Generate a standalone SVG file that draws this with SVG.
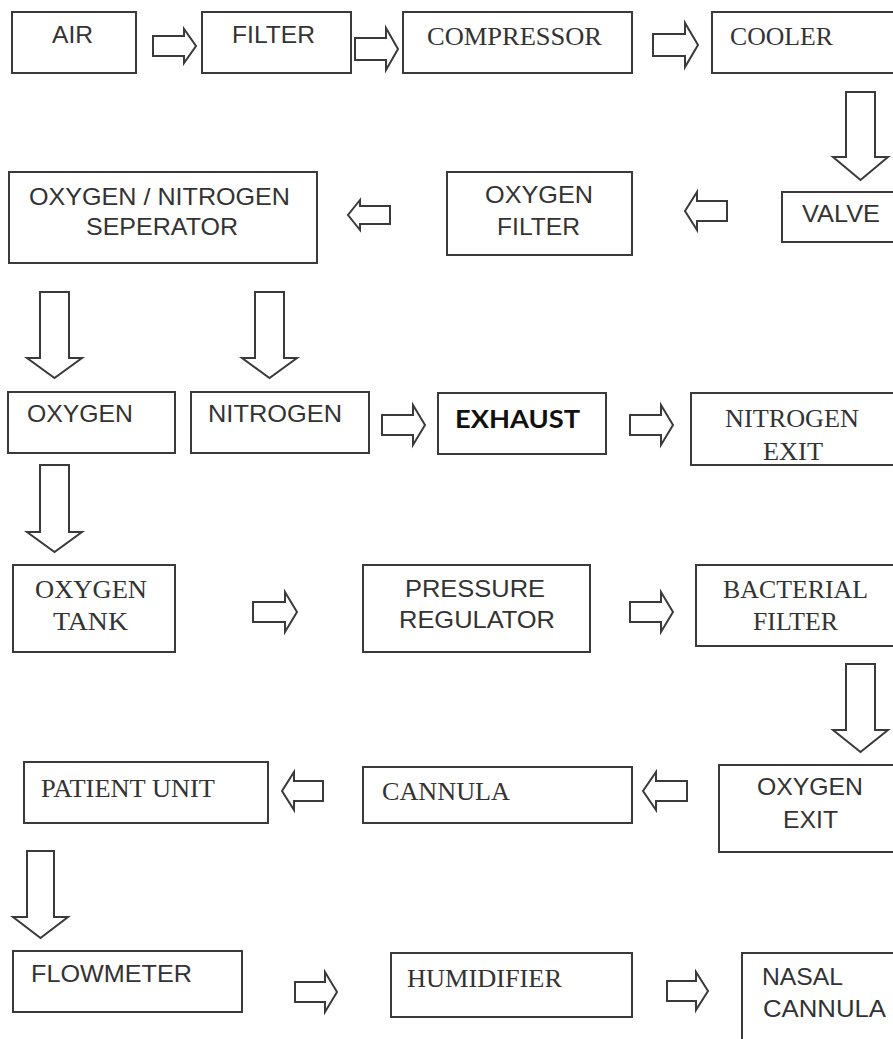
<svg xmlns="http://www.w3.org/2000/svg" width="893" height="1039" viewBox="0 0 893 1039">
<style>
.box{fill:#fff;stroke:#3a3a3a;stroke-width:2}
.arr{fill:#fff;stroke:#3a3a3a;stroke-width:2;stroke-linejoin:miter}
.s{font-family:"Liberation Sans",Arial,sans-serif;font-size:24px;fill:#333}
.t{font-family:"Liberation Serif","Times New Roman",serif;font-size:26px;fill:#333}
.b{font-family:Lato,"Liberation Sans",sans-serif;font-weight:bold;font-size:25px;fill:#111}
</style>
<rect width="893" height="1039" fill="#fff"/>
<g id="connectors">
<path class="arr" d="M153,36 L184,36 L184,29 L196,46 L184,63 L184,56 L153,56 Z"/>
<path class="arr" d="M355,38 L386,38 L386,28 L398,49 L386,70 L386,60 L355,60 Z"/>
<path class="arr" d="M653,34 L685,34 L685,23 L698,45 L685,67 L685,56 L653,56 Z"/>
<path class="arr" d="M382,415 L413,415 L413,405 L425,425 L413,445 L413,435 L382,435 Z"/>
<path class="arr" d="M630,415 L661,415 L661,405 L673,425 L661,445 L661,435 L630,435 Z"/>
<path class="arr" d="M253,602 L285,602 L285,592 L297,612 L285,632 L285,622 L253,622 Z"/>
<path class="arr" d="M630,602 L661,602 L661,592 L673,612 L661,632 L661,622 L630,622 Z"/>
<path class="arr" d="M295,982 L325,982 L325,972 L337,992 L325,1012 L325,1002 L295,1002 Z"/>
<path class="arr" d="M667,981 L696,981 L696,972 L708,991 L696,1010 L696,1001 L667,1001 Z"/>
<path class="arr" d="M390,206 L360,206 L360,200 L348,215 L360,230 L360,224 L390,224 Z"/>
<path class="arr" d="M727,201 L697,201 L697,192 L685,211 L697,230 L697,221 L727,221 Z"/>
<path class="arr" d="M323,781 L294,781 L294,772 L282,791 L294,810 L294,801 L323,801 Z"/>
<path class="arr" d="M687,781 L656,781 L656,772 L643,791 L656,810 L656,801 L687,801 Z"/>
<path class="arr" d="M846,92 L875,92 L875,157 L888,157 L860.5,180 L833,157 L846,157 Z"/>
<path class="arr" d="M40,292 L69,292 L69,358 L82,358 L54.5,378 L27,358 L40,358 Z"/>
<path class="arr" d="M255,292 L284,292 L284,358 L297,358 L269.5,378 L242,358 L255,358 Z"/>
<path class="arr" d="M40,465 L69,465 L69,532 L82,532 L54.5,552 L27,532 L40,532 Z"/>
<path class="arr" d="M846,664 L875,664 L875,730 L888,730 L860.5,752 L833,730 L846,730 Z"/>
<path class="arr" d="M27,851 L54,851 L54,917 L68,917 L40.5,938 L13,917 L27,917 Z"/>
</g>
<g id="air"><rect class="box" x="12" y="12" width="124" height="61"/><text class="s" x="52" y="43" textLength="41" lengthAdjust="spacingAndGlyphs">AIR</text></g>
<g id="filter"><rect class="box" x="202" y="12" width="149" height="61"/><text class="s" x="232" y="43" textLength="83" lengthAdjust="spacingAndGlyphs">FILTER</text></g>
<g id="compressor"><rect class="box" x="403" y="12" width="229" height="61"/><text class="t" x="427" y="45" textLength="175" lengthAdjust="spacingAndGlyphs">COMPRESSOR</text></g>
<g id="cooler"><rect class="box" x="712" y="12" width="200" height="61"/><text class="t" x="730" y="45" textLength="103" lengthAdjust="spacingAndGlyphs">COOLER</text></g>
<g id="separator"><rect class="box" x="9" y="172" width="308" height="91"/><text class="s" x="29" y="205" textLength="261" lengthAdjust="spacingAndGlyphs">OXYGEN / NITROGEN</text><text class="s" x="86" y="235" textLength="152" lengthAdjust="spacingAndGlyphs">SEPERATOR</text></g>
<g id="oxygen-filter"><rect class="box" x="447" y="172" width="185" height="83"/><text class="s" x="485" y="203" textLength="108" lengthAdjust="spacingAndGlyphs">OXYGEN</text><text class="s" x="497" y="235" textLength="83" lengthAdjust="spacingAndGlyphs">FILTER</text></g>
<g id="valve"><rect class="box" x="782" y="192" width="130" height="50"/><text class="s" x="802" y="222" textLength="78" lengthAdjust="spacingAndGlyphs">VALVE</text></g>
<g id="oxygen"><rect class="box" x="8" y="392" width="167" height="61"/><text class="s" x="27" y="422" textLength="106" lengthAdjust="spacingAndGlyphs">OXYGEN</text></g>
<g id="nitrogen"><rect class="box" x="191" y="392" width="178" height="61"/><text class="s" x="208" y="422" textLength="134" lengthAdjust="spacingAndGlyphs">NITROGEN</text></g>
<g id="exhaust"><rect class="box" x="438" y="393" width="168" height="61"/><text class="b" x="455" y="428" textLength="125" lengthAdjust="spacingAndGlyphs">EXHAUST</text></g>
<g id="nitrogen-exit"><rect class="box" x="691" y="393" width="220" height="72"/><text class="t" x="725" y="427" textLength="134" lengthAdjust="spacingAndGlyphs">NITROGEN</text><text class="t" x="763" y="460" textLength="60" lengthAdjust="spacingAndGlyphs">EXIT</text></g>
<g id="oxygen-tank"><rect class="box" x="13" y="565" width="162" height="87"/><text class="t" x="35" y="598" textLength="112" lengthAdjust="spacingAndGlyphs">OXYGEN</text><text class="t" x="53" y="630" textLength="75" lengthAdjust="spacingAndGlyphs">TANK</text></g>
<g id="pressure-regulator"><rect class="box" x="363" y="565" width="227" height="87"/><text class="s" x="405" y="597" textLength="140" lengthAdjust="spacingAndGlyphs">PRESSURE</text><text class="s" x="399" y="628" textLength="156" lengthAdjust="spacingAndGlyphs">REGULATOR</text></g>
<g id="bacterial-filter"><rect class="box" x="696" y="565" width="220" height="81"/><text class="t" x="723" y="598" textLength="145" lengthAdjust="spacingAndGlyphs">BACTERIAL</text><text class="t" x="753" y="630" textLength="85" lengthAdjust="spacingAndGlyphs">FILTER</text></g>
<g id="patient-unit"><rect class="box" x="24" y="762" width="244" height="61"/><text class="t" x="41" y="797" textLength="174" lengthAdjust="spacingAndGlyphs">PATIENT UNIT</text></g>
<g id="cannula"><rect class="box" x="363" y="767" width="269" height="56"/><text class="t" x="382" y="800" textLength="128" lengthAdjust="spacingAndGlyphs">CANNULA</text></g>
<g id="oxygen-exit"><rect class="box" x="719" y="765" width="200" height="87"/><text class="s" x="757" y="795" textLength="106" lengthAdjust="spacingAndGlyphs">OXYGEN</text><text class="s" x="783" y="828" textLength="55" lengthAdjust="spacingAndGlyphs">EXIT</text></g>
<g id="flowmeter"><rect class="box" x="13" y="951" width="229" height="61"/><text class="s" x="31" y="982" textLength="161" lengthAdjust="spacingAndGlyphs">FLOWMETER</text></g>
<g id="humidifier"><rect class="box" x="391" y="953" width="241" height="64"/><text class="t" x="407" y="987" textLength="155" lengthAdjust="spacingAndGlyphs">HUMIDIFIER</text></g>
<g id="nasal-cannula"><rect class="box" x="742" y="953" width="200" height="120"/><text class="s" x="762" y="985" textLength="81" lengthAdjust="spacingAndGlyphs">NASAL</text><text class="s" x="763" y="1017" textLength="123" lengthAdjust="spacingAndGlyphs">CANNULA</text></g>
</svg>
